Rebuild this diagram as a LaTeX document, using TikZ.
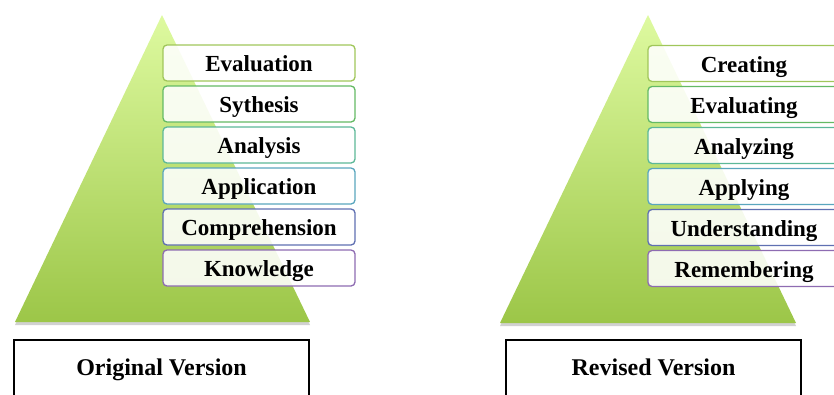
\documentclass[tikz,border=0pt]{standalone}
\usepackage{fontspec}
\setmainfont{Liberation Serif}
\definecolor{lvA}{RGB}{160,198,90}
\definecolor{lvB}{RGB}{100,186,100}
\definecolor{lvC}{RGB}{92,184,152}
\definecolor{lvD}{RGB}{90,166,190}
\definecolor{lvE}{RGB}{96,112,178}
\definecolor{lvF}{RGB}{142,108,178}
\definecolor{pyrtop}{RGB}{222,250,160}
\definecolor{pyrbot}{RGB}{156,198,72}
\tikzset{
  level/.style={draw=#1, line width=1.3pt, rounded corners=4pt, fill=white, fill opacity=0.88, text opacity=1,
    minimum width=192pt, minimum height=36pt, inner sep=0pt, text height=19pt, text depth=2pt,
    font=\fontsize{23}{26}\selectfont\bfseries},
  version/.style={draw=black, line width=1.8pt, minimum width=295pt, minimum height=70pt, inner sep=0pt},
  vlabel/.style={anchor=base, font=\fontsize{24}{27}\selectfont\bfseries}
}
\begin{document}
\begin{tikzpicture}[x=1pt,y=-1pt]
	\useasboundingbox (0,0) rectangle (834,394);
	\clip (0,0) rectangle (834,394);
	% pyramids with a soft shadow
	\fill[black!30, opacity=0.6] (15,325) -- (162,18) -- (310,325) -- cycle;
	\shade[top color=pyrtop, bottom color=pyrbot] (15,322) -- (162,15) -- (310,322) -- cycle;
	\fill[black!30, opacity=0.6] (500,326) -- (648,18) -- (796,326) -- cycle;
	\shade[top color=pyrtop, bottom color=pyrbot] (500,323) -- (648,15) -- (796,323) -- cycle;
	% original levels
	\foreach \name/\txt/\col [count=\i from 0] in {oeval/Evaluation/lvA, osyn/Sythesis/lvB, oana/Analysis/lvC,
	    oapp/Application/lvD, ocomp/Comprehension/lvE, oknow/Knowledge/lvF}
	  \node[level=\col] (\name) at (259,63+41*\i) {\txt};
	% revised levels
	\foreach \name/\txt/\col [count=\i from 0] in {rcre/Creating/lvA, reval/Evaluating/lvB, rana/Analyzing/lvC,
	    rapp/Applying/lvD, rund/Understanding/lvE, rrem/Remembering/lvF}
	  \node[level=\col] (\name) at (744,63.5+41*\i) {\txt};
	% captions
	\node[version] (orig) at (161.5,375) {};
	\node[vlabel] at (161.5,375) {Original Version};
	\node[version] (rev) at (653.5,375) {};
	\node[vlabel] at (653.5,375) {Revised Version};
\end{tikzpicture}
\end{document}
